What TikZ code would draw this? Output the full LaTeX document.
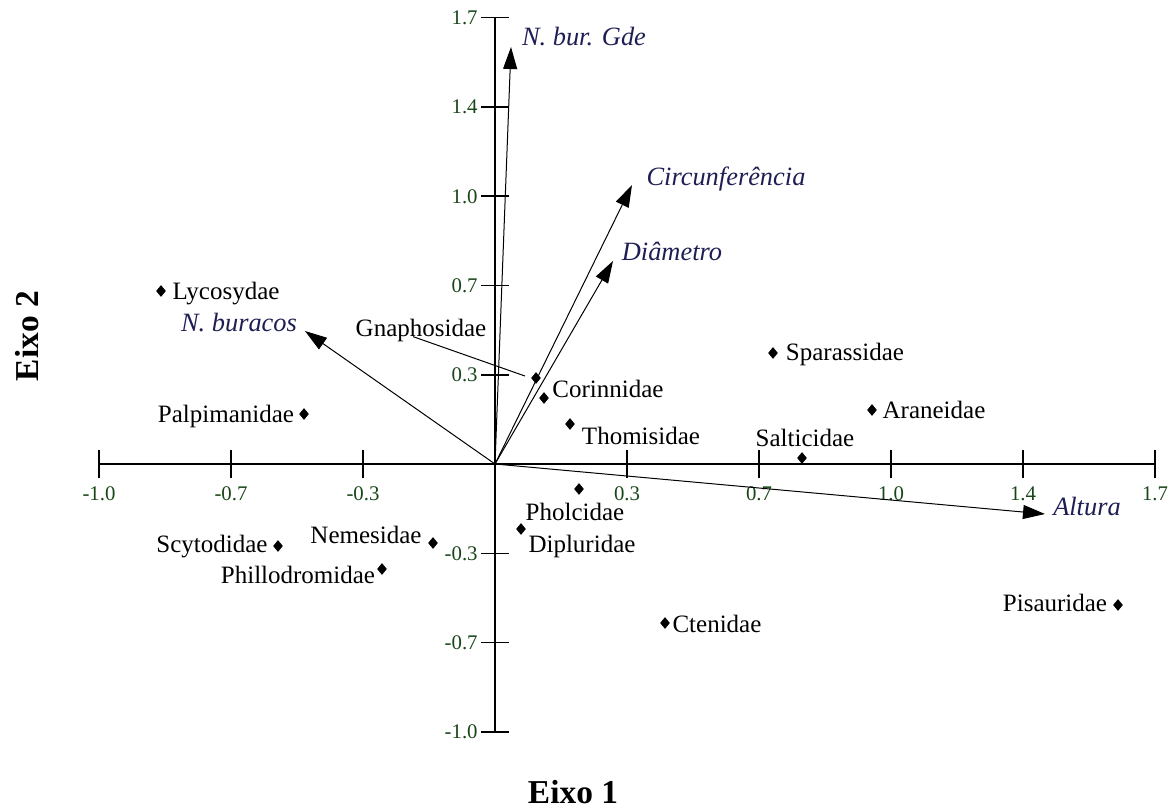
\documentclass[tikz,border=0pt]{standalone}
\usepackage{fontspec}
\setmainfont{Liberation Serif}
\usetikzlibrary{arrows.meta, shapes.geometric}
\definecolor{tickgreen}{RGB}{25,70,25}
\definecolor{varblue}{RGB}{30,30,85}
\tikzset{
  axisline/.style={line width=0.8pt},
  vetor/.style={line width=0.5pt, -{Triangle[length=11pt,width=7pt]}},
  ponto/.style={diamond, fill=black, inner sep=0pt, minimum width=5pt, minimum height=6pt},
  familia/.style={font=\fontsize{12.5}{14}\selectfont, inner sep=0pt, text height=8.2pt, text depth=0pt},
  variavel/.style={font=\fontsize{13.2}{15}\selectfont\itshape, text=varblue, inner sep=0pt, text height=8.7pt, text depth=0pt},
  escala/.style={font=\fontsize{10.4}{12}\selectfont, text=tickgreen, inner sep=0pt, text height=7pt, text depth=0pt},
  eixo/.style={font=\fontsize{16.7}{19}\selectfont\bfseries, inner sep=0pt},
}

\begin{document}
\begin{tikzpicture}[x=0.5pt, y=-0.5pt]
    \useasboundingbox (0,0) rectangle (1175,810);

    % eixos
    \coordinate (o) at (495,464);
    \coordinate (xmin) at (99,464);
    \coordinate (xmax) at (1155,464);
    \coordinate (ymax) at (495,17);
    \coordinate (ymin) at (495,731);
    \draw[axisline] (xmin) -- (xmax);
    \draw[axisline] (ymin) -- (ymax);
    \foreach \i/\v in {-3/-1.0, -2/-0.7, -1/-0.3, 1/0.3, 2/0.7, 3/1.0, 4/1.4, 5/1.7} {
        \draw[axisline] (495+132*\i,450) -- (495+132*\i,478);
        \node[escala] (tx\i) at (495+132*\i,493) {\v};
    }
    \foreach \j/\v in {-3/-1.0, -2/-0.7, -1/-0.3, 1/0.3, 2/0.7, 3/1.0, 4/1.4, 5/1.7} {
        \draw[axisline] (481,464-89.3*\j) -- (509,464-89.3*\j);
        \node[escala, anchor=east] (ty\j) at (478,464-89.3*\j) {\v};
    }
    \node[eixo, rotate=90] (eixo2) at (27,336) {Eixo 2};
    \node[eixo] (eixo1) at (573,792) {Eixo 1};

    % variaveis
    \coordinate (tGde) at (511,47);
    \coordinate (tCirc) at (632,185);
    \coordinate (tDiam) at (613,261);
    \coordinate (tBur) at (305,331);
    \coordinate (tAlt) at (1045,514);
    \draw[vetor] (o) -- (tGde);
    \draw[vetor] (o) -- (tCirc);
    \draw[vetor] (o) -- (tDiam);
    \draw[vetor] (o) -- (tBur);
    \draw[vetor] (o) -- (tAlt);
    \node[variavel] (vGde) at (584,37) {N. bur. Gde};
    \node[variavel] (vCirc) at (726,177) {Circunferência};
    \node[variavel] (vDiam) at (672,252) {Diâmetro};
    \node[variavel] (vBur) at (239,323) {N. buracos};
    \node[variavel] (vAlt) at (1087,507) {Altura};

    % familias
    \node[ponto] (pLyco) at (161,291) {};
    \node[familia] (lLyco) at (226,291) {Lycosydae};
    \node[ponto] (pPalp) at (304,414) {};
    \node[familia] (lPalp) at (226,414) {Palpimanidae};
    \node[ponto] (pGnap) at (536,378) {};
    \node[familia] (lGnap) at (421,328) {Gnaphosidae};
    \draw[line width=0.5pt, shorten >=3pt] ([xshift=-4pt]lGnap.south) -- (pGnap.west);
    \node[ponto] (pCori) at (544,398) {};
    \node[familia] (lCori) at (608,389) {Corinnidae};
    \node[ponto] (pThom) at (570,424) {};
    \node[familia] (lThom) at (641,436) {Thomisidae};
    \node[ponto] (pPhol) at (579,489) {};
    \node[familia] (lPhol) at (575,512) {Pholcidae};
    \node[ponto] (pDipl) at (521,529) {};
    \node[familia] (lDipl) at (582,544) {Dipluridae};
    \node[ponto] (pNeme) at (433,543) {};
    \node[familia] (lNeme) at (366,535) {Nemesidae};
    \node[ponto] (pScyt) at (278,546) {};
    \node[familia] (lScyt) at (212,544) {Scytodidae};
    \node[ponto] (pPhil) at (382,569) {};
    \node[familia] (lPhil) at (298,575) {Phillodromidae};
    \node[ponto] (pCten) at (665,623) {};
    \node[familia] (lCten) at (717,624) {Ctenidae};
    \node[ponto] (pSpar) at (773,353) {};
    \node[familia] (lSpar) at (845,352) {Sparassidae};
    \node[ponto] (pAran) at (872,410) {};
    \node[familia] (lAran) at (934,410) {Araneidae};
    \node[ponto] (pSalt) at (802,458) {};
    \node[familia] (lSalt) at (805,438) {Salticidae};
    \node[ponto] (pPisa) at (1118,605) {};
    \node[familia] (lPisa) at (1055,603) {Pisauridae};
\end{tikzpicture}
\end{document}
